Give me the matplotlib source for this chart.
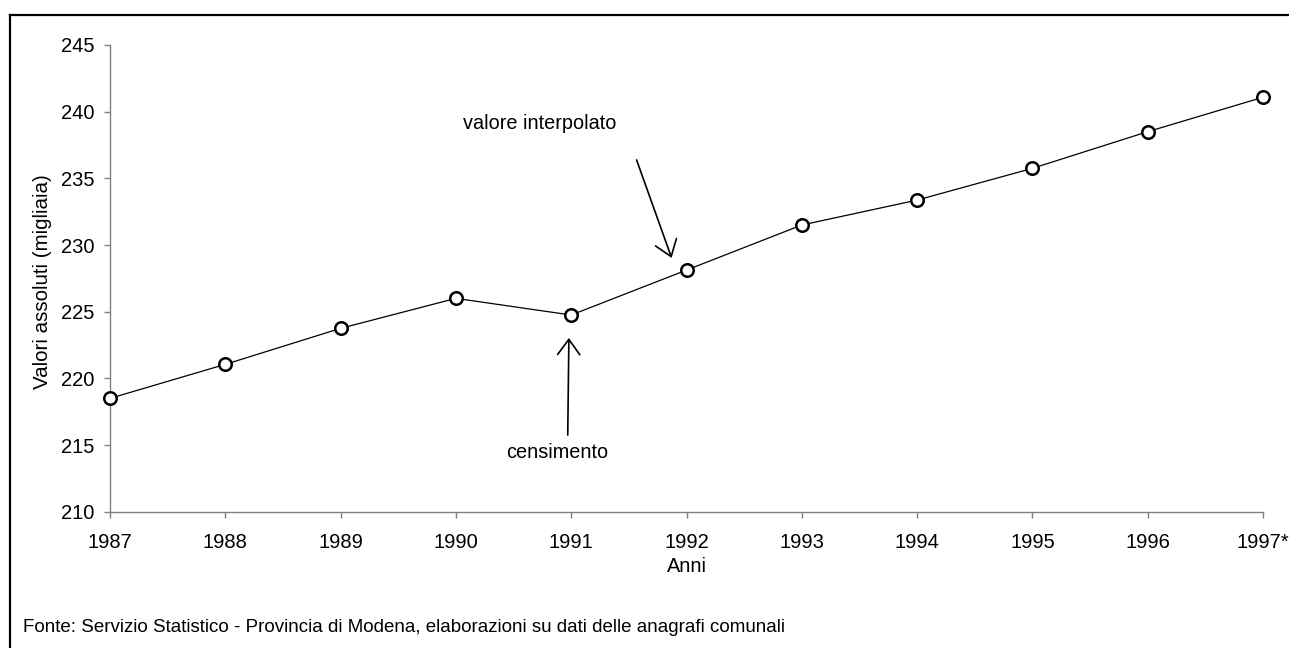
import matplotlib
matplotlib.use("Agg")
import matplotlib.pyplot as plt
from matplotlib.lines import Line2D

plt.rcParams['font.family'] = ['Liberation Sans', 'DejaVu Sans']

years = [1987, 1988, 1989, 1990, 1991, 1992, 1993, 1994, 1995, 1996, 1997]
year_labels = ['1987', '1988', '1989', '1990', '1991', '1992', '1993', '1994', '1995', '1996', '1997*']
values = [218.5, 221.05, 223.75, 226.0, 224.75, 228.12, 231.5, 233.37, 235.75, 238.5, 241.08]
y_ticks = [210, 215, 220, 225, 230, 235, 240, 245]

W, H = 1289, 648
fig = plt.figure(figsize=(W / 100, H / 100), dpi=100)
ax = fig.add_axes([110 / W, 1 - 511.7 / H, (1263 - 110) / W, (511.7 - 45) / H])

ax.plot(years, values, color='black', lw=0.9, marker='o', markersize=9,
        markerfacecolor='white', markeredgecolor='black', markeredgewidth=1.8,
        clip_on=False, zorder=3)

ax.set_xlim(1987, 1997)
ax.set_ylim(210, 245)
ax.set_xticks(years)
ax.set_xticklabels(year_labels)
ax.set_yticks(y_ticks)
for s in ['top', 'right']:
    ax.spines[s].set_visible(False)
for s in ['left', 'bottom']:
    ax.spines[s].set_color('#808080')
    ax.spines[s].set_linewidth(1.0)
ax.tick_params(axis='both', colors='#808080', length=4.5, width=1.0, labelcolor='black', labelsize=14.5)
ax.tick_params(axis='y', pad=7)
ax.tick_params(axis='x', pad=11)

fig.text(43 / W, 1 - 282 / H, 'Valori assoluti (migliaia)', rotation=90, ha='center', va='center', fontsize=14.8)
fig.text(0.5 * (110 + 1263) / W, 1 - 567 / H, 'Anni', ha='center', va='center', fontsize=14.3)
fig.text(23 / W, 1 - 632.5 / H, 'Fonte: Servizio Statistico - Provincia di Modena, elaborazioni su dati delle anagrafi comunali',
         ha='left', va='baseline', fontsize=13.5)

# annotations
ax.text(1990.06, 239.15, 'valore interpolato', ha='left', va='center', fontsize=14.3)
ax.annotate('', xy=(1991.871, 229.03), xytext=(1991.567, 236.38),
            arrowprops=dict(arrowstyle='->,head_length=0.55,head_width=0.4', color='black', lw=1.2,
                            mutation_scale=20, shrinkA=0, shrinkB=0))
ax.text(1990.88, 214.42, 'censimento', ha='center', va='center', fontsize=14.3)
ax.annotate('', xy=(1990.98, 223.03), xytext=(1990.97, 215.75),
            arrowprops=dict(arrowstyle='->,head_length=0.55,head_width=0.4', color='black', lw=1.2,
                            mutation_scale=20, shrinkA=0, shrinkB=0))

# outer frame (left and top visible)
fig.add_artist(Line2D([9.5 / W, 9.5 / W], [-0.01, 1 - 15 / H], transform=fig.transFigure, color='black', lw=1.6))
fig.add_artist(Line2D([9.5 / W, 1.01], [1 - 15 / H, 1 - 15 / H], transform=fig.transFigure, color='black', lw=1.6))

fig.savefig('out.png', dpi=100)
